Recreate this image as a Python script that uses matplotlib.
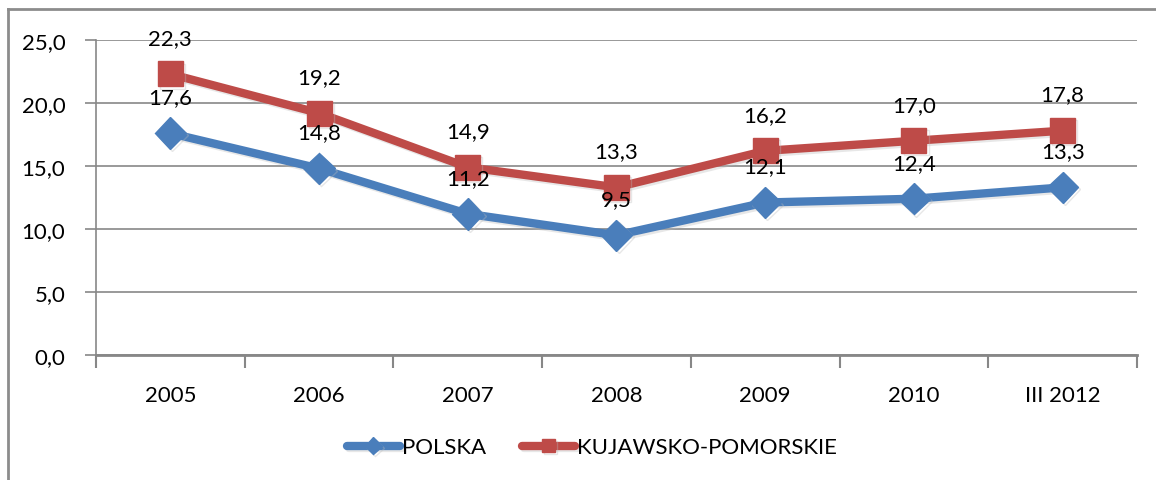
import matplotlib
matplotlib.use('Agg')
import matplotlib.pyplot as plt
import matplotlib.patheffects as pe
from matplotlib.lines import Line2D

# dane
kategorie = ['2005', '2006', '2007', '2008', '2009', '2010', 'III 2012']
polska = [17.6, 14.8, 11.2, 9.5, 12.1, 12.4, 13.3]
kujawsko = [22.3, 19.2, 14.9, 13.3, 16.2, 17.0, 17.8]
y_ticks = [0, 5, 10, 15, 20, 25]

plt.rcParams['font.family'] = ['Lato', 'DejaVu Sans']

BLUE = '#4A7EBB'
RED = '#BE4B48'
GRID = '#878787'
FS = 16

fig = plt.figure(figsize=(11.56, 4.81), dpi=100)
ax = fig.add_axes([0.083, 0.26, 0.9006, 0.6548])

x = list(range(len(kategorie)))
shadow = [pe.SimpleLineShadow(offset=(1.5, -1.5), shadow_color='#bbbbbb', alpha=0.35), pe.Normal()]

l1, = ax.plot(x, polska, color=BLUE, lw=6, marker='D', ms=16, mfc=BLUE, mec=BLUE,
              solid_capstyle='round', path_effects=shadow, zorder=3, label='POLSKA')
l2, = ax.plot(x, kujawsko, color=RED, lw=6, marker='s', ms=18, mfc=RED, mec=RED,
              solid_capstyle='round', path_effects=shadow, zorder=3, label='KUJAWSKO-POMORSKIE')

# etykiety danych
for xi, v in zip(x, polska):
    ax.annotate(f'{v:.1f}'.replace('.', ','), (xi, v), xytext=(0, 26), textcoords='offset points',
                ha='center', va='center', fontsize=FS, color='black', zorder=5)
for xi, v in zip(x, kujawsko):
    ax.annotate(f'{v:.1f}'.replace('.', ','), (xi, v), xytext=(0, 26), textcoords='offset points',
                ha='center', va='center', fontsize=FS, color='black', zorder=5)

ax.set_xlim(-0.5, len(kategorie) - 0.5)
ax.set_ylim(0, 25)
ax.set_yticks(y_ticks)
ax.set_yticklabels([f'{t:.1f}'.replace('.', ',') for t in y_ticks], fontsize=FS)
ax.set_xticks(x)
ax.set_xticklabels(kategorie, fontsize=FS)
ax.tick_params(axis='x', length=0, pad=22)
ax.set_xticks([i - 0.5 for i in range(len(kategorie) + 1)], minor=True)
ax.tick_params(axis='x', which='minor', length=9, color=GRID, width=1.5)
ax.tick_params(axis='y', length=8, color=GRID, width=1.2, pad=14)

ax.grid(axis='y', color=GRID, lw=1.2)
ax.set_axisbelow(True)
for s in ['top', 'right']:
    ax.spines[s].set_visible(False)
ax.spines['left'].set_color(GRID)
ax.spines['bottom'].set_color(GRID)
ax.spines['bottom'].set_linewidth(2)
ax.spines['left'].set_linewidth(1.2)

leg = fig.legend(handles=[l1, l2], loc='center', bbox_to_anchor=(0.512, 0.068), ncol=2,
                 frameon=False, fontsize=FS, handlelength=2.4, handletextpad=0.1,
                 columnspacing=1.6, markerscale=0.55)

# ramka wykresu
fig.add_artist(Line2D([8 / 1156, 8 / 1156], [0, 1 - 10 / 481], color='#8c8c8c', lw=2))
fig.add_artist(Line2D([8 / 1156, 1], [1 - 10 / 481, 1 - 10 / 481], color='#8c8c8c', lw=2))

fig.savefig('out.png', dpi=100)
